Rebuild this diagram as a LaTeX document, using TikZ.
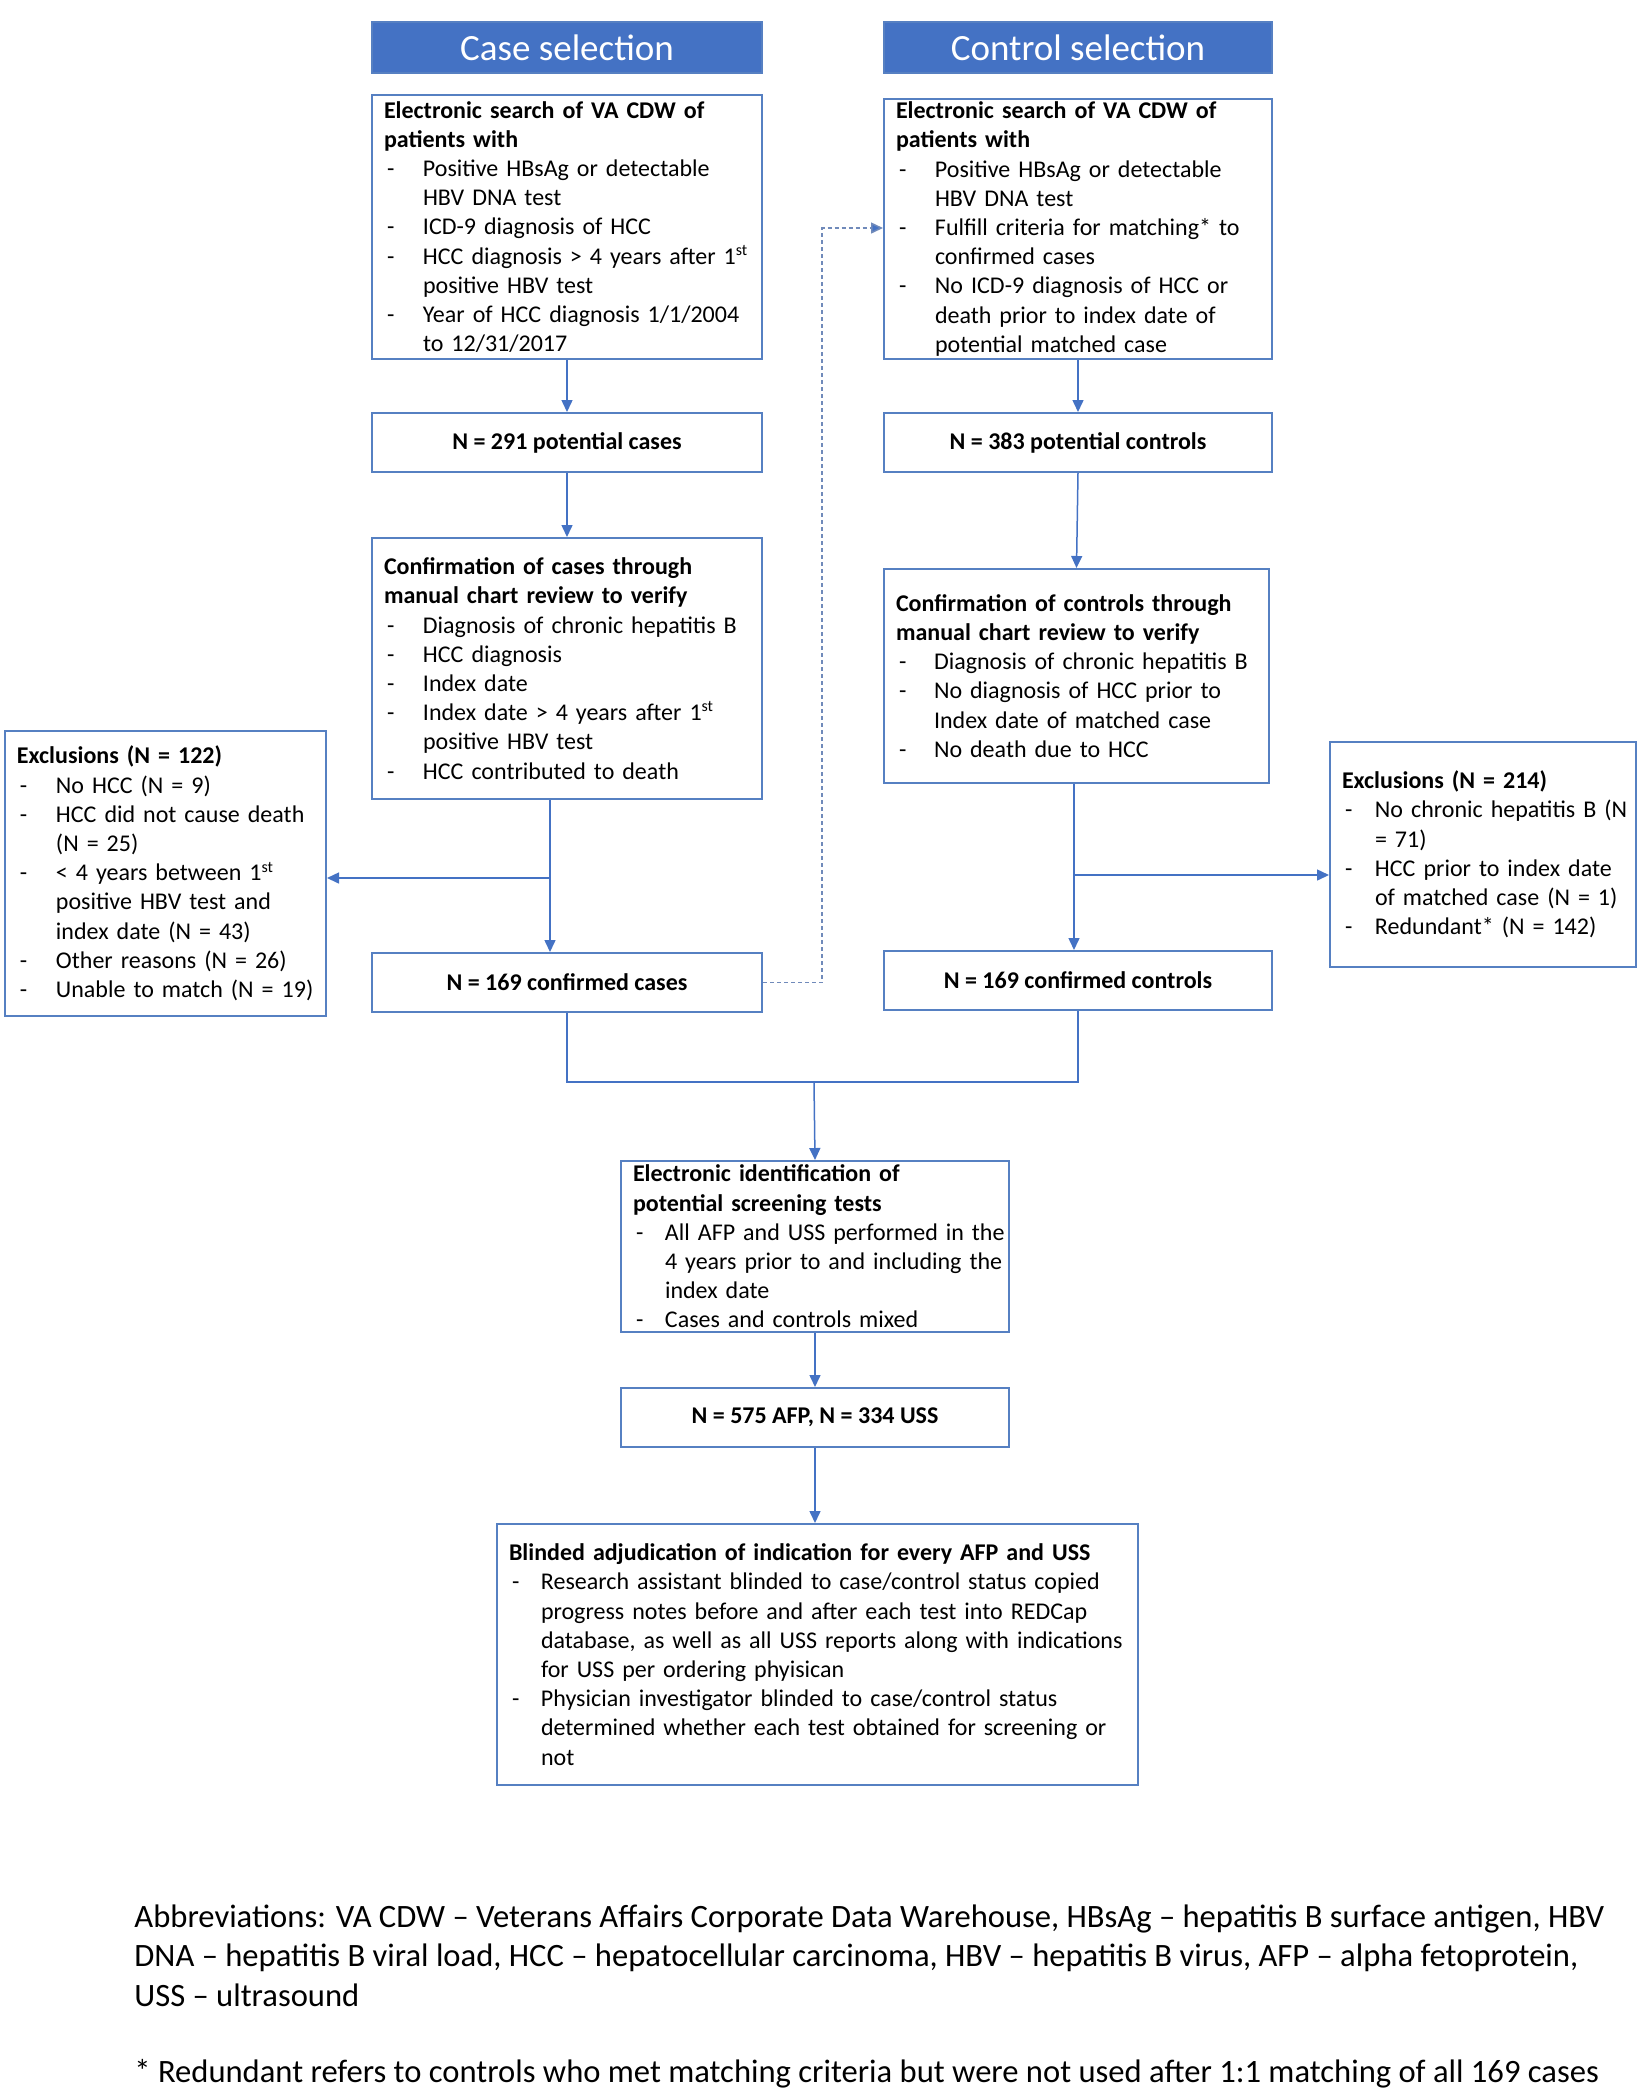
\documentclass[tikz,border=0pt]{standalone}
\usepackage{fontspec}
\setmainfont{Carlito}
\usetikzlibrary{arrows.meta}
\definecolor{hdrblue}{RGB}{68,114,196}
\definecolor{boxline}{RGB}{86,128,194}
\definecolor{flowblue}{RGB}{68,114,196}
\definecolor{dotblue}{RGB}{112,138,186}
\setlength{\parindent}{0pt}
\setlength{\parskip}{0pt}
\hfuzz=60pt
\newlength{\dashwd}
\setlength{\dashwd}{19.5pt}
% one printed line per macro, so the breaks stay as drawn
\newcommand{\ttl}[1]{\mbox{\bfseries #1}}
\newcommand{\hd}[1]{\par\mbox{\bfseries #1}}
\newcommand{\di}[1]{\par\makebox[\dashwd][l]{\hspace{1.5pt}-}\mbox{#1}}
\newcommand{\dl}[1]{\par\hspace*{\dashwd}\mbox{#1}}
\newcommand{\nst}{\textsuperscript{st}}
\tikzset{
  hdr/.style={fill=hdrblue, draw=boxline, line width=1pt, text=white, anchor=north west,
    minimum height=25.5pt, font=\fontsize{18.5}{22}\selectfont},
  box/.style={draw=boxline, line width=1pt, anchor=north west, align=left,
    inner xsep=6pt, inner ysep=0pt, font=\fontsize{12}{14.6}\selectfont},
  count/.style={draw=boxline, line width=1pt, anchor=north west, inner sep=0pt,
    minimum height=29.5pt, font=\fontsize{12}{14.6}\selectfont\bfseries},
  flow/.style={draw=flowblue, line width=0.75pt, -{Triangle[length=6pt,width=5.5pt]}},
  link/.style={draw=flowblue, line width=0.75pt},
  matchlink/.style={draw=dotblue, line width=0.75pt, dash pattern=on 2pt off 1.5pt,
    -{Triangle[length=6pt,width=5.5pt,fill=flowblue]}},
  note/.style={anchor=north west, inner sep=0pt, align=left, font=\fontsize{16.3}{19.75}\selectfont}
}
\begin{document}
\begin{tikzpicture}[x=0.5pt,y=-0.5pt]
\useasboundingbox (0,0) rectangle (1642,2100);
% column headers
\node[hdr, minimum width=195pt] (hcase) at (371,21) {Case selection};
\node[hdr, minimum width=194pt] (hctrl) at (883,21) {Control selection};
% case side
\node[box, text width=183pt, minimum height=132pt] (srchcase) at (371,94)
  {\ttl{Electronic search of VA CDW of}\hd{patients with}\di{Positive HBsAg or detectable}\dl{HBV DNA test}\di{ICD-9 diagnosis of HCC}\di{HCC diagnosis > 4 years after 1\nst}\dl{positive HBV test}\di{Year of HCC diagnosis 1/1/2004}\dl{to 12/31/2017}};
\node[count, minimum width=195pt] (potcase) at (371,412) {N = 291 potential cases};
\node[box, text width=183pt, minimum height=130.5pt] (confcase) at (371,537)
  {\ttl{Confirmation of cases through}\hd{manual chart review to verify}\di{Diagnosis of chronic hepatitis B}\di{HCC diagnosis}\di{Index date}\di{Index date > 4 years after 1\nst}\dl{positive HBV test}\di{HCC contributed to death}};
\node[box, text width=148.5pt, minimum height=142.5pt] (exclcase) at (4,730)
  {\ttl{Exclusions (N = 122)}\di{No HCC (N = 9)}\di{HCC did not cause death}\dl{(N = 25)}\di{< 4 years between 1\nst}\dl{positive HBV test and}\dl{index date (N = 43)}\di{Other reasons (N = 26)}\di{Unable to match (N = 19)}};
\node[count, minimum width=195pt] (cfmcase) at (371,952) {N = 169 confirmed cases};
% control side
\node[box, text width=182pt, minimum height=130pt] (srchctrl) at (883,98)
  {\ttl{Electronic search of VA CDW of}\hd{patients with}\di{Positive HBsAg or detectable}\dl{HBV DNA test}\di{Fulfill criteria for matching* to}\dl{confirmed cases}\di{No ICD-9 diagnosis of HCC or}\dl{death prior to index date of}\dl{potential matched case}};
\node[count, minimum width=194pt] (potctrl) at (883,412) {N = 383 potential controls};
\node[box, text width=180.5pt, minimum height=107pt] (confctrl) at (883,568)
  {\setlength{\dashwd}{19pt}\ttl{Confirmation of controls through}\hd{manual chart review to verify}\di{Diagnosis of chronic hepatitis B}\di{No diagnosis of HCC prior to}\dl{Index date of matched case}\di{No death due to HCC}};
\node[box, text width=141pt, minimum height=112.5pt] (exclctrl) at (1329,741)
  {\setlength{\dashwd}{16.5pt}\ttl{Exclusions (N = 214)}\di{No chronic hepatitis B (N}\dl{= 71)}\di{HCC prior to index date}\dl{of matched case (N = 1)}\di{Redundant* (N = 142)}};
\node[count, minimum width=194pt] (cfmctrl) at (883,950) {N = 169 confirmed controls};
% pooled part
\node[box, text width=182pt, minimum height=85.5pt] (elecid) at (620,1160)
  {\setlength{\dashwd}{16pt}\ttl{Electronic identification of}\hd{potential screening tests}\di{All AFP and USS performed in the}\dl{4 years prior to and including the}\dl{index date}\di{Cases and controls mixed}};
\node[count, minimum width=194pt] (tests) at (620,1387) {N = 575 AFP, N = 334 USS};
\node[box, text width=308.5pt, minimum height=130.5pt] (blind) at (496,1523)
  {\setlength{\dashwd}{16pt}\ttl{Blinded adjudication of indication for every AFP and USS}\di{Research assistant blinded to case/control status copied}\dl{progress notes before and after each test into REDCap}\dl{database, as well as all USS reports along with indications}\dl{for USS per ordering phyisican}\di{Physician investigator blinded to case/control status}\dl{determined whether each test obtained for screening or}\dl{not}};
% notes
\node[note] (abbrev) at (134,1904) {Abbreviations: VA CDW -- Veterans Affairs Corporate Data Warehouse, HBsAg -- hepatitis B surface antigen, HBV\\ DNA -- hepatitis B viral load, HCC -- hepatocellular carcinoma, HBV -- hepatitis B virus, AFP -- alpha fetoprotein,\\ USS -- ultrasound};
\node[note] (redund) at (134,2059) {* Redundant refers to controls who met matching criteria but were not used after 1:1 matching of all 169 cases};
% connectors
\coordinate (splitL) at (550,878);
\coordinate (splitR) at (1074,875);
\coordinate (merge) at (814,1082);
\coordinate (bend) at (822,228);
\draw[flow] (srchcase.south) -- (potcase.north);
\draw[flow] (potcase.south) -- (confcase.north);
\draw[flow] (confcase.south -| splitL) -- (cfmcase.north -| splitL);
\draw[flow] (splitL) -- (exclcase.east |- splitL);
\draw[flow] (srchctrl.south) -- (potctrl.north);
\draw[flow] (potctrl.south) -- (confctrl.north);
\draw[flow] (confctrl.south -| splitR) -- (cfmctrl.north -| splitR);
\draw[flow] (splitR) -- (exclctrl.west |- splitR);
\draw[link] (cfmcase.south) |- (merge) -| (cfmctrl.south);
\draw[flow] (merge) -- (elecid.north);
\draw[flow] (elecid.south) -- (tests.north);
\draw[flow] (tests.south) -- (tests.south |- blind.north);
\draw[matchlink] (cfmcase.east) -| (bend) -- (srchctrl.west |- bend);
\end{tikzpicture}
\end{document}
